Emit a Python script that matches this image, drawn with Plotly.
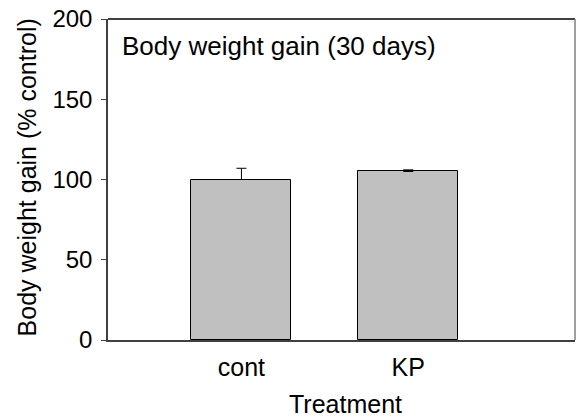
import plotly.graph_objects as go

categories = ["cont", "KP"]
values = [100, 105]
err_plus = [7, 1]
err_minus = [0, 0]
y_ticks = [0, 50, 100, 150, 200]

FONT = "Liberation Sans, Arial, sans-serif"

fig = go.Figure()
fig.add_trace(go.Bar(
    x=categories, y=values, width=0.6,
    marker=dict(color="#C0C0C0", line=dict(color="#000000", width=1)),
    error_y=dict(type="data", symmetric=False, array=err_plus, arrayminus=err_minus,
                 color="#000000", thickness=1, width=5),
    showlegend=False,
))

fig.update_layout(
    width=580, height=417,
    margin=dict(l=108, r=5, t=19, b=77),
    paper_bgcolor="white", plot_bgcolor="white",
    font=dict(family=FONT, size=24, color="#000000"),
    bargap=0,
    xaxis=dict(
        type="category", range=[-0.8, 2.0], automargin=False,
        showline=True, linecolor="#404040", linewidth=1.5, mirror=False,
        ticks="", showgrid=False, zeroline=False,
        tickfont=dict(size=25), ticklabelstandoff=4, ticklabeloverflow="allow",
    ),
    yaxis=dict(
        range=[0, 200], tickvals=y_ticks, automargin=False,
        showline=True, linecolor="#404040", linewidth=1.5, mirror=False,
        ticks="outside", ticklen=5, tickcolor="#404040", tickwidth=1,
        showgrid=False, zeroline=False,
        tickfont=dict(size=24), ticklabelstandoff=4, ticklabeloverflow="allow",
    ),
    annotations=[
        dict(text="Body weight gain (30 days)", xref="paper", yref="paper",
             x=0.026, y=0.917, xanchor="left", yanchor="middle", showarrow=False,
             font=dict(size=26, family=FONT, color="#000000")),
        dict(text="Treatment", xref="paper", yref="paper",
             x=0.5075, y=-0.2, xanchor="center", yanchor="middle", showarrow=False,
             font=dict(size=25, family=FONT, color="#000000")),
        dict(text="Body weight gain (% control)", xref="paper", yref="paper",
             x=-0.1745, y=0.505, xanchor="center", yanchor="middle", showarrow=False,
             textangle=-90,
             font=dict(size=25, family=FONT, color="#000000")),
    ],
    shapes=[
        dict(type="line", xref="paper", yref="paper", x0=0, x1=1, y0=1, y1=1,
             line=dict(color="#000000", width=1.5)),
        dict(type="line", xref="paper", yref="paper", x0=1, x1=1, y0=0, y1=1,
             line=dict(color="#808080", width=1.5)),
    ],
)

fig.write_html("out.html", config={"displayModeBar": False},
               post_script="document.body.style.margin='0';")
